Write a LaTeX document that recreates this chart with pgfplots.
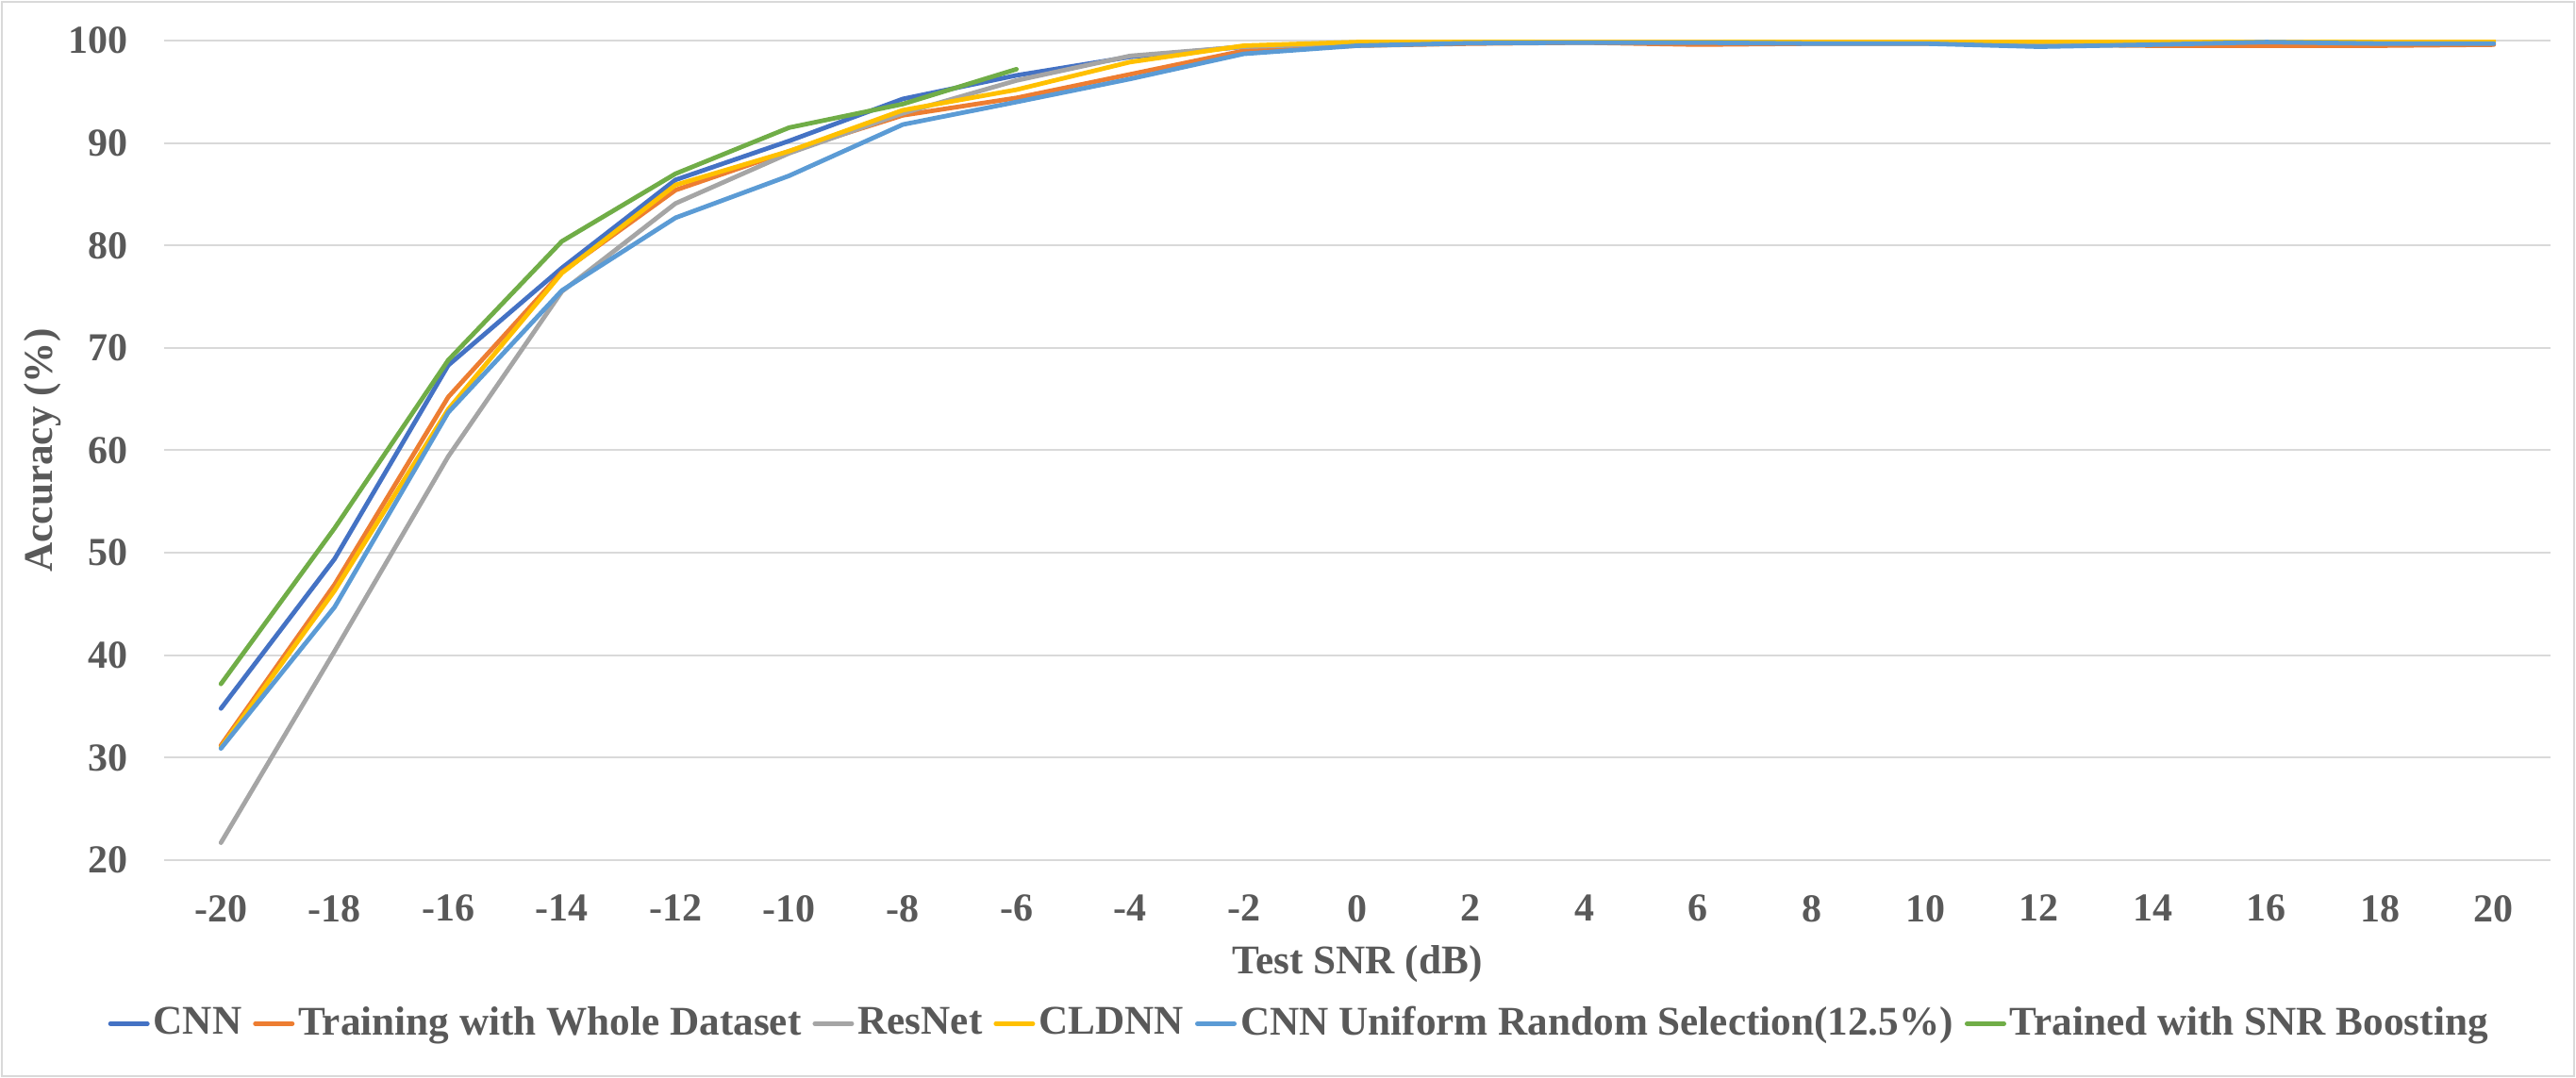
\documentclass[border=0pt]{standalone}
\usepackage{fontspec}
\setmainfont{Liberation Serif}
\usepackage{pgfplots}
\pgfplotsset{compat=1.18}

\definecolor{cnnblue}{HTML}{4472C4}
\definecolor{whole}{HTML}{ED7D31}
\definecolor{resnet}{HTML}{A5A5A5}
\definecolor{cldnn}{HTML}{FFC000}
\definecolor{urs}{HTML}{5B9BD5}
\definecolor{boost}{HTML}{70AD47}
\definecolor{gridc}{HTML}{D9D9D9}
\definecolor{txt}{HTML}{595959}

\begin{document}
\begin{tikzpicture}
\useasboundingbox (-43.5pt,-57.75pt) rectangle (639.25pt,228pt);
\draw[gridc, line width=0.5pt] (-43pt,-57.25pt) rectangle (638.75pt,227.5pt);
\begin{axis}[
  at={(0,0)}, anchor=south west,
  scale only axis,
  width=632.5pt,
  height=217.25pt,
  xmin=-21, xmax=21,
  ymin=20, ymax=100,
  xtick={-20,-18,...,20},
  ytick={20,30,...,100},
  /pgf/number format/assume math mode=true,
  major tick length=0pt,
  axis line style={draw=none},
  ymajorgrids,
  major grid style={gridc, line width=0.5pt},
  tick label style={font=\fontsize{10.5}{12}\selectfont\bfseries, text=txt},
  xticklabel style={yshift=-5.75pt},
  yticklabel style={xshift=-6pt},
  xlabel={Test SNR (dB)},
  ylabel={Accuracy (\%)},
  label style={font=\fontsize{10.8}{13}\selectfont\bfseries, text=txt},
  xlabel style={at={(axis description cs:0.5,0)}, anchor=base, yshift=-30.25pt},
  ylabel style={at={(axis description cs:0,0.5)}, anchor=center, yshift=32.25pt},
  legend columns=6,
  legend style={at={(axis description cs:0.476,0)}, anchor=north, yshift=-37.6pt,
    draw=none, fill=none, inner sep=0pt,
    font=\fontsize{10.8}{13}\selectfont\bfseries, text=txt,
    nodes={inner sep=1pt},
    /tikz/every even column/.append style={column sep=2pt}},
  legend image code/.code={\draw[#1, line width=1.2pt, line cap=round] (0.6pt,0pt) -- (10.4pt,0pt);},
  every axis plot/.append style={line width=1.2pt, line cap=round, line join=round, mark=none},
]

\addplot[cnnblue] coordinates {
(-20,34.8) (-18,49.4) (-16,68.3) (-14,77.8) (-12,86.4) (-10,90.2) (-8,94.3)
(-6,96.6) (-4,98.4) (-2,99.4) (0,99.7) (2,99.8) (4,99.9) (6,99.9) (8,99.8)
(10,99.8) (12,99.7) (14,99.8) (16,99.7) (18,99.8) (20,99.8)};
\addlegendentry{CNN}

\addplot[whole] coordinates {
(-20,31.2) (-18,46.9) (-16,65.2) (-14,77.4) (-12,85.4) (-10,89.2) (-8,92.7)
(-6,94.4) (-4,96.7) (-2,99.0) (0,99.5) (2,99.7) (4,99.8) (6,99.6) (8,99.7)
(10,99.7) (12,99.6) (14,99.5) (16,99.5) (18,99.5) (20,99.6)};
\addlegendentry{Training with Whole Dataset}

\addplot[resnet] coordinates {
(-20,21.7) (-18,40.4) (-16,59.4) (-14,75.5) (-12,84.1) (-10,89.0) (-8,92.9)
(-6,96.1) (-4,98.5) (-2,99.4) (0,99.7) (2,99.9) (4,99.9) (6,99.9) (8,99.9)
(10,99.9) (12,99.8) (14,99.9) (16,99.9) (18,99.9) (20,99.9)};
\addlegendentry{ResNet}

\addplot[cldnn] coordinates {
(-20,31.0) (-18,46.3) (-16,64.0) (-14,77.3) (-12,85.9) (-10,89.2) (-8,93.2)
(-6,95.2) (-4,97.9) (-2,99.5) (0,99.85) (2,100) (4,100) (6,100) (8,100)
(10,100) (12,99.9) (14,100) (16,100) (18,100) (20,100)};
\addlegendentry{CLDNN}

\addplot[urs] coordinates {
(-20,30.9) (-18,44.7) (-16,63.7) (-14,75.6) (-12,82.7) (-10,86.8) (-8,91.8)
(-6,94.0) (-4,96.25) (-2,98.7) (0,99.5) (2,99.75) (4,99.8) (6,99.8) (8,99.7)
(10,99.7) (12,99.4) (14,99.6) (16,99.85) (18,99.7) (20,99.7)};
\addlegendentry{CNN Uniform Random Selection(12.5\%)}

\addplot[boost] coordinates {
(-20,37.2) (-18,52.4) (-16,68.8) (-14,80.4) (-12,87.0) (-10,91.5) (-8,93.8)
(-6,97.2)};
\addlegendentry{Trained with SNR Boosting}

\end{axis}
\end{tikzpicture}
\end{document}
